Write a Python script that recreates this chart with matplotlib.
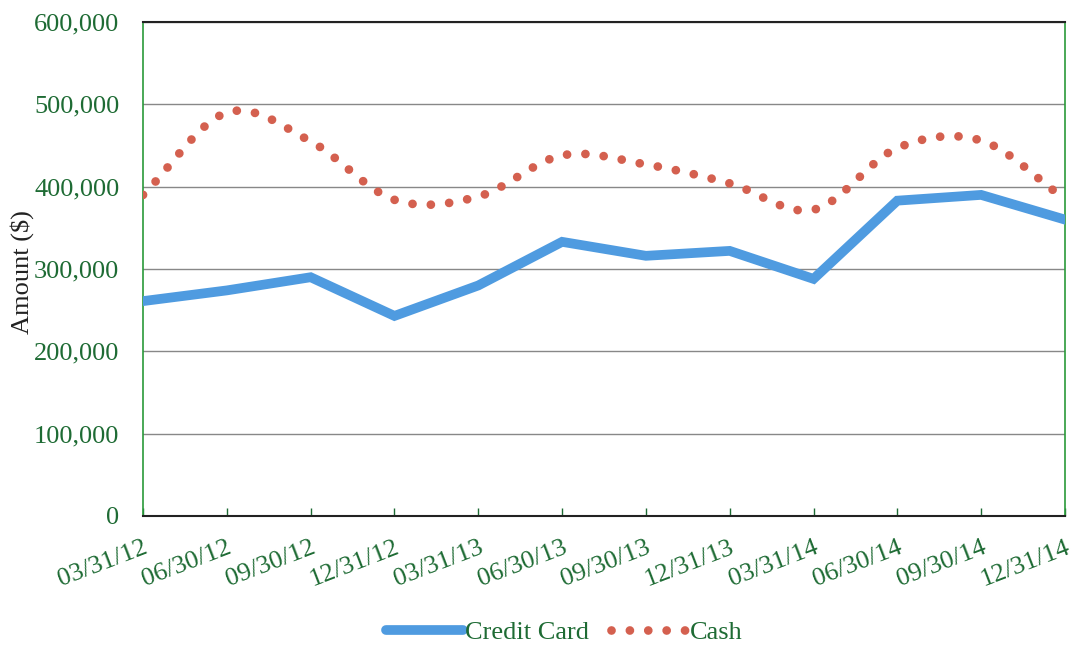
import numpy as np
import matplotlib.pyplot as plt
from matplotlib.lines import Line2D
from matplotlib.ticker import FuncFormatter

dates = ['03/31/12', '06/30/12', '09/30/12', '12/31/12', '03/31/13', '06/30/13',
         '09/30/13', '12/31/13', '03/31/14', '06/30/14', '09/30/14', '12/31/14']
credit_card = [261000, 274000, 290000, 243000, 280000, 333000,
               316000, 322000, 288000, 383000, 390000, 360000]
cash = [390000, 490000, 455000, 384000, 388000, 438000,
        427000, 404000, 372000, 447000, 456000, 385000]

GREEN = '#1e6b34'
BLUE = '#4f9be0'
RED = '#d4604f'


def smooth(xs, ys, n=30):
    # Catmull-Rom through the points, similar to a spreadsheet "smoothed line"
    xs = np.asarray(xs, float)
    ys = np.asarray(ys, float)
    px = np.concatenate([[2 * xs[0] - xs[1]], xs, [2 * xs[-1] - xs[-2]]])
    py = np.concatenate([[2 * ys[0] - ys[1]], ys, [2 * ys[-1] - ys[-2]]])
    out_x, out_y = [], []
    t = np.linspace(0, 1, n, endpoint=False)
    for i in range(1, len(px) - 2):
        for p, out in ((px, out_x), (py, out_y)):
            p0, p1, p2, p3 = p[i - 1], p[i], p[i + 1], p[i + 2]
            out.extend(0.5 * ((2 * p1) + (-p0 + p2) * t
                              + (2 * p0 - 5 * p1 + 4 * p2 - p3) * t ** 2
                              + (-p0 + 3 * p1 - 3 * p2 + p3) * t ** 3))
    out_x.append(xs[-1])
    out_y.append(ys[-1])
    return np.array(out_x), np.array(out_y)


plt.rcParams['font.family'] = ['Liberation Serif', 'DejaVu Serif']

fig = plt.figure(figsize=(10.73, 6.45), dpi=100)
ax = fig.add_axes([0.1333, 0.2, 0.8592, 0.7659])

x = np.arange(len(dates))
ax.plot(x, credit_card, color=BLUE, lw=7, solid_joinstyle='miter', zorder=3)

sx, sy = smooth(x, cash)
ax.plot(sx, sy, color=RED, lw=6.3, linestyle=(0, (0.001, 2.1)),
        dash_capstyle='round', zorder=3)

ax.set_xlim(0, len(dates) - 1)
ax.set_ylim(0, 600000)
ax.set_yticks(np.arange(0, 600001, 100000))
ax.yaxis.set_major_formatter(FuncFormatter(lambda v, p: f'{int(v):,}'))
ax.grid(axis='y', color='#888888', lw=1.0)
ax.set_axisbelow(True)

ax.set_xticks(x)
ax.set_xticklabels(dates, rotation=21, ha='right', rotation_mode='anchor')
ax.tick_params(axis='x', direction='in', length=6, color=GREEN, width=1,
               labelsize=19, labelcolor=GREEN, pad=15)
ax.tick_params(axis='y', length=0, labelsize=19, labelcolor=GREEN, pad=17)
ax.get_xticklabels()[-1].set_x(len(dates) - 1)

for s in ('left', 'right'):
    ax.spines[s].set_color('#2a9a3a')
    ax.spines[s].set_linewidth(1.2)
for s in ('top', 'bottom'):
    ax.spines[s].set_color('#222222')
    ax.spines[s].set_linewidth(1.5)

fig.text(0.021, 0.578, 'Amount ($)', rotation=90, ha='center', va='center',
         fontsize=19, color='#222222')

handles = [
    Line2D([], [], color=BLUE, lw=7, solid_capstyle='round'),
    Line2D([], [], color=RED, lw=6.3, linestyle=(0, (0.001, 2.1)),
           dash_capstyle='round'),
]
fig.legend(handles, ['Credit Card', 'Cash'], loc='center',
           bbox_to_anchor=(0.526, 0.02), ncol=2, frameon=False,
           fontsize=19, labelcolor=GREEN, handlelength=2.9,
           handletextpad=0.1, columnspacing=0.8)

fig.savefig('out.png', dpi=100)
